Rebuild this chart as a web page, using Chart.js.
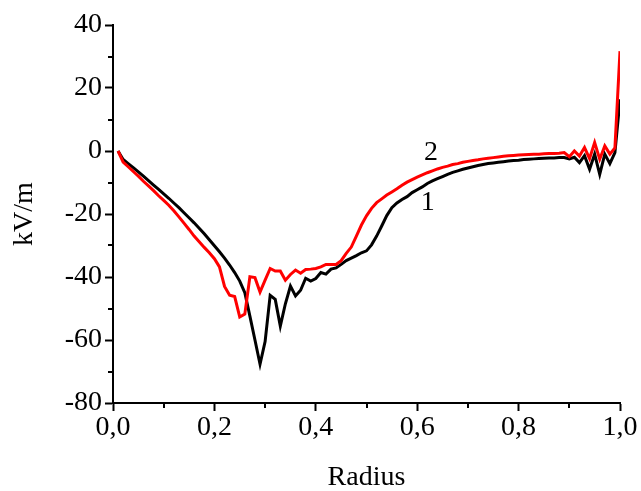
<!DOCTYPE html>
<html>
<head>
<meta charset="utf-8">
<script src="https://cdn.jsdelivr.net/npm/chart.js@4"></script>
<style>
  html, body { margin: 0; padding: 0; background: #ffffff; }
  #wrap { width: 641px; height: 491px; }
</style>
</head>
<body>
<div id="wrap"><canvas id="chart" width="641" height="491"></canvas></div>
<script>
// Normalised radius (x) shared by both curves
const radius = [
  0.01, 0.02, 0.03, 0.04, 0.05, 0.06, 0.07, 0.08, 0.09, 0.10,
  0.11, 0.12, 0.13, 0.14, 0.15, 0.16, 0.17, 0.18, 0.19, 0.20,
  0.21, 0.22, 0.23, 0.24, 0.25, 0.26, 0.27, 0.28, 0.29, 0.30,
  0.31, 0.32, 0.33, 0.34, 0.35, 0.36, 0.37, 0.38, 0.39, 0.40,
  0.41, 0.42, 0.43, 0.44, 0.45, 0.46, 0.47, 0.48, 0.49, 0.50,
  0.51, 0.52, 0.53, 0.54, 0.55, 0.56, 0.57, 0.58, 0.59, 0.60,
  0.61, 0.62, 0.63, 0.64, 0.65, 0.66, 0.67, 0.68, 0.69, 0.70,
  0.71, 0.72, 0.73, 0.74, 0.75, 0.76, 0.77, 0.78, 0.79, 0.80,
  0.81, 0.82, 0.83, 0.84, 0.85, 0.86, 0.87, 0.88, 0.89, 0.90,
  0.91, 0.92, 0.93, 0.94, 0.95, 0.96, 0.97, 0.98, 0.99, 1.00
];

// Curve 1 (black), field strength in kV/m
const field1 = [
  0.0, -2.7, -4.0, -5.3, -6.6, -8.0, -9.4, -10.8, -12.2, -13.6,
  -15.0, -16.5, -18.0, -19.6, -21.2, -22.8, -24.5, -26.3, -28.2, -30.1,
  -32.0, -34.0, -36.2, -38.6, -41.3, -45.0, -52.4, -60.0, -67.7, -60.5,
  -45.8, -47.1, -55.6, -48.5, -42.9, -46.0, -44.2, -40.4, -41.3, -40.5,
  -38.6, -39.1, -37.5, -37.1, -36.0, -34.8, -34.0, -33.2, -32.3, -31.7,
  -29.8, -27.0, -23.8, -20.5, -18.0, -16.5, -15.4, -14.5, -13.2, -12.3,
  -11.4, -10.3, -9.5, -8.8, -8.1, -7.4, -6.8, -6.3, -5.8, -5.4,
  -5.0, -4.6, -4.3, -4.0, -3.8, -3.6, -3.4, -3.2, -3.0, -2.9,
  -2.7, -2.6, -2.5, -2.4, -2.3, -2.2, -2.2, -2.1, -2.1, -2.5,
  -2.0, -3.7, -1.5, -5.8, -1.0, -7.4, -1.0, -4.0, -0.5, 16.4
];

// Curve 2 (red), field strength in kV/m
const field2 = [
  0.0, -3.5, -5.0, -6.5, -8.0, -9.6, -11.1, -12.6, -14.2, -15.7,
  -17.2, -19.0, -20.9, -22.9, -24.9, -27.0, -28.8, -30.6, -32.3, -34.2,
  -36.8, -43.0, -45.8, -46.2, -52.7, -51.8, -39.9, -40.2, -44.8, -41.0,
  -37.3, -38.1, -38.1, -41.0, -39.2, -37.8, -38.8, -37.6, -37.5, -37.3,
  -36.8, -36.0, -36.0, -36.0, -34.8, -32.5, -30.5, -27.0, -23.5, -20.6,
  -18.2, -16.4, -15.2, -14.0, -13.0, -12.0, -10.9, -9.9, -9.1, -8.3,
  -7.6, -6.9, -6.3, -5.7, -5.2, -4.8, -4.3, -4.0, -3.6, -3.3,
  -3.0, -2.8, -2.5, -2.3, -2.1, -1.9, -1.7, -1.5, -1.4, -1.3,
  -1.2, -1.1, -1.0, -1.0, -0.9, -0.8, -0.8, -0.7, -0.5, -1.8,
  0.0, -1.6, 1.1, -2.4, 2.7, -2.6, 1.6, -1.0, 1.0, 31.7
];

// Curve labels placed in data coordinates
const curveNames = ['1', '2'];
const curveNameX = [0.621, 0.627];
const curveNameY = [-16.3, -0.4];

// Axis ranges and ticks
const xMin = 0, xMax = 1, xStep = 0.2;
const yMin = -80, yMax = 40, yStep = 20;
const xMinorTicks = [0.1, 0.3, 0.5, 0.7, 0.9];
const yMinorTicks = [-70, -50, -30, -10, 10, 30];

const FONT = 'Liberation Serif, Times New Roman, serif';

const toPoints = (xs, ys) => xs.map((x, i) => ({ x: x, y: ys[i] }));

// Short outward minor ticks on both axes, and the curve numbers
const extrasPlugin = {
  id: 'extras',
  afterDraw(chart) {
    const ctx = chart.ctx;
    const xs = chart.scales.x, ys = chart.scales.y;
    const area = chart.chartArea;
    ctx.save();
    ctx.strokeStyle = '#000';
    ctx.lineWidth = 2;
    ctx.beginPath();
    xMinorTicks.forEach(v => {
      const px = Math.round(xs.getPixelForValue(v));
      ctx.moveTo(px, area.bottom);
      ctx.lineTo(px, area.bottom + 5);
    });
    yMinorTicks.forEach(v => {
      const py = Math.round(ys.getPixelForValue(v));
      ctx.moveTo(area.left, py);
      ctx.lineTo(area.left - 5, py);
    });
    ctx.stroke();

    ctx.fillStyle = '#000';
    ctx.font = '28px ' + FONT;
    ctx.textAlign = 'center';
    ctx.textBaseline = 'middle';
    curveNames.forEach((t, i) => {
      ctx.fillText(t, xs.getPixelForValue(curveNameX[i]), ys.getPixelForValue(curveNameY[i]));
    });
    ctx.restore();
  }
};

new Chart(document.getElementById('chart'), {
  type: 'line',
  data: {
    datasets: [
      {
        label: '1',
        data: toPoints(radius, field1),
        borderColor: '#000000',
        borderWidth: 3,
        pointRadius: 0,
        tension: 0,
        fill: false,
        order: 2
      },
      {
        label: '2',
        data: toPoints(radius, field2),
        borderColor: '#ff0000',
        borderWidth: 3,
        pointRadius: 0,
        tension: 0,
        fill: false,
        order: 1
      }
    ]
  },
  options: {
    responsive: false,
    animation: false,
    events: [],
    layout: { padding: { left: 0, right: 21, top: 25, bottom: 0 } },
    plugins: {
      legend: { display: false },
      tooltip: { enabled: false },
      title: { display: false }
    },
    scales: {
      x: {
        type: 'linear',
        min: xMin,
        max: xMax,
        afterFit(scale) { scale.height = 88; },
        border: { display: true, color: '#000', width: 2 },
        grid: {
          drawOnChartArea: false,
          drawTicks: true,
          tickLength: 8,
          tickWidth: 2,
          tickColor: '#000'
        },
        ticks: {
          stepSize: xStep,
          color: '#000',
          padding: 0,
          maxRotation: 0,
          font: { family: FONT, size: 28 },
          callback: v => v.toFixed(1).replace('.', ',')
        },
        title: {
          display: true,
          text: 'Radius',
          color: '#000',
          font: { family: FONT, size: 28, lineHeight: 1 },
          padding: { top: 0, bottom: -1 }
        }
      },
      y: {
        type: 'linear',
        min: yMin,
        max: yMax,
        afterFit(scale) { scale.width = 113; },
        border: { display: true, color: '#000', width: 2 },
        grid: {
          drawOnChartArea: false,
          drawTicks: true,
          tickLength: 8,
          tickWidth: 2,
          tickColor: '#000'
        },
        ticks: {
          stepSize: yStep,
          color: '#000',
          padding: 3,
          font: { family: FONT, size: 28 },
          callback: v => String(v)
        },
        title: {
          display: true,
          text: 'kV/m',
          color: '#000',
          font: { family: FONT, size: 28, lineHeight: 1 },
          padding: { top: 11, bottom: 0 }
        }
      }
    }
  },
  plugins: [extrasPlugin]
});
</script>
</body>
</html>
